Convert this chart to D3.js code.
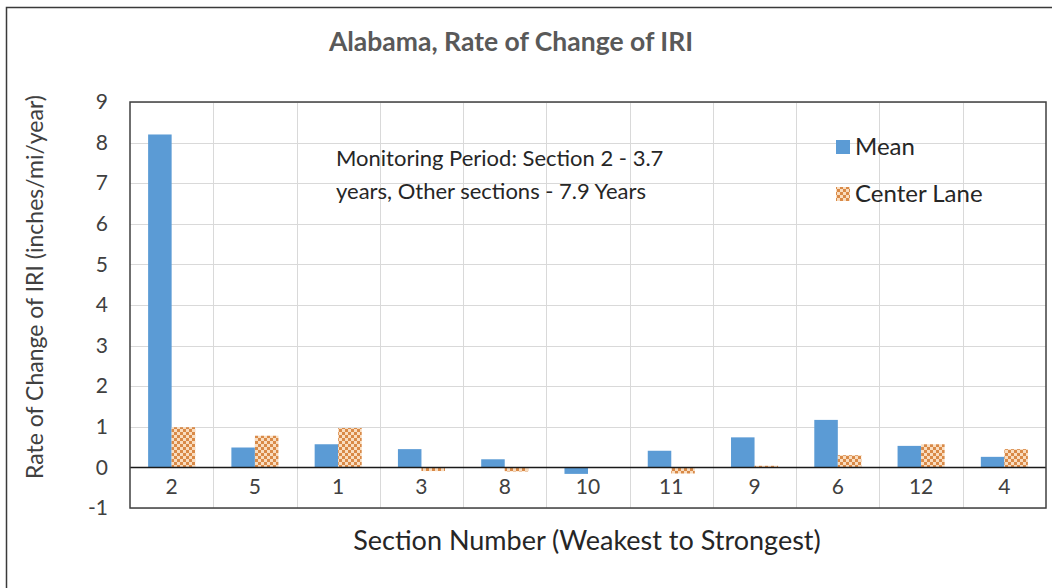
<!DOCTYPE html>
<html>
<head>
<meta charset="utf-8">
<script src="https://cdn.jsdelivr.net/npm/d3@7"></script>
<style>
  html, body { margin: 0; padding: 0; background: #fff; }
  svg { display: block; }
  text { font-family: Lato, "Open Sans", sans-serif; }
</style>
</head>
<body>
<svg id="chart" width="1052" height="588"></svg>
<script>
// ---- data ----
const categories = ["2", "5", "1", "3", "8", "10", "11", "9", "6", "12", "4"];
const meanValues = [8.2, 0.49, 0.57, 0.45, 0.2, -0.16, 0.41, 0.74, 1.17, 0.53, 0.26];
const centerLaneValues = [0.99, 0.78, 0.97, -0.09, -0.1, 0.0, -0.15, 0.04, 0.3, 0.57, 0.45];
const seriesNames = ["Mean", "Center Lane"];
const yTicks = [-1, 0, 1, 2, 3, 4, 5, 6, 7, 8, 9];
const titleText = "Alabama, Rate of Change of IRI";
const xTitle = "Section Number (Weakest to Strongest)";
const yTitle = "Rate of Change of IRI (inches/mi/year)";
const noteLines = ["Monitoring Period: Section 2 - 3.7", "years, Other sections - 7.9 Years"];

const svg = d3.select("#chart");
const W = 1052, H = 588;
const plot = { left: 130, right: 1046, top: 102, bottom: 508 };

// pattern for Center Lane
const defs = svg.append("defs");
const pat = defs.append("pattern").attr("id", "checker")
  .attr("patternUnits", "userSpaceOnUse").attr("width", 6).attr("height", 6);
pat.append("rect").attr("width", 6).attr("height", 6).attr("fill", "#F9DDC0");
pat.append("rect").attr("width", 3).attr("height", 3).attr("fill", "#D98A48");
pat.append("rect").attr("x", 3).attr("y", 3).attr("width", 3).attr("height", 3).attr("fill", "#D98A48");

// outer chart border
svg.append("rect").attr("x", 6.5).attr("y", 7.5).attr("width", W + 10).attr("height", H + 10)
  .attr("fill", "#fff").attr("stroke", "#3a3a3a").attr("stroke-width", 1.5);

const x0 = d3.scaleBand().domain(categories).range([plot.left, plot.right]).padding(0);
const groupW = x0.bandwidth() * 0.565;
const x1 = d3.scaleBand().domain(seriesNames).range([0, groupW]).padding(0);
const y = d3.scaleLinear().domain([-1, 9]).range([plot.bottom, plot.top]);

// gridlines horizontal
svg.append("g").selectAll("line").data(yTicks).join("line")
  .attr("x1", plot.left).attr("x2", plot.right)
  .attr("y1", d => Math.round(y(d)) + 0.5).attr("y2", d => Math.round(y(d)) + 0.5)
  .attr("stroke", "#d9d9d9").attr("stroke-width", 1);
// vertical gridlines at category boundaries
svg.append("g").selectAll("line").data(categories.slice(1)).join("line")
  .attr("x1", d => Math.round(x0(d)) + 0.5).attr("x2", d => Math.round(x0(d)) + 0.5)
  .attr("y1", plot.top).attr("y2", plot.bottom)
  .attr("stroke", "#d9d9d9").attr("stroke-width", 1);

// bars
const rows = categories.map((c, i) => ({ cat: c, vals: [meanValues[i], centerLaneValues[i]] }));
const fills = ["#5B9BD5", "url(#checker)"];
const g = svg.append("g");
rows.forEach(r => {
  const gx = x0(r.cat) + (x0.bandwidth() - groupW) / 2;
  r.vals.forEach((v, si) => {
    g.append("rect")
      .attr("x", gx + x1(seriesNames[si]))
      .attr("width", x1.bandwidth())
      .attr("y", y(Math.max(0, v)))
      .attr("height", Math.abs(y(v) - y(0)))
      .attr("fill", fills[si]);
  });
});

// zero line
svg.append("line").attr("x1", plot.left).attr("x2", plot.right)
  .attr("y1", y(0)).attr("y2", y(0)).attr("stroke", "#1a1a1a").attr("stroke-width", 1.5);

// plot frame
svg.append("rect").attr("x", plot.left).attr("y", plot.top)
  .attr("width", plot.right - plot.left).attr("height", plot.bottom - plot.top)
  .attr("fill", "none").attr("stroke", "#404040").attr("stroke-width", 1.5);

// y tick labels via axis
const yAxis = d3.axisLeft(y).tickValues(yTicks).tickSize(0).tickPadding(0).tickFormat(d3.format("d"));
const ya = svg.append("g").attr("transform", `translate(${plot.left - 22},0)`).call(yAxis);
ya.select(".domain").remove();
ya.selectAll("text").attr("font-size", 21).attr("fill", "#404040")
  .attr("font-family", "Lato, sans-serif").attr("text-anchor", "end").attr("dx", 0)
  .text(d => d < 0 ? "-" + Math.abs(d) : d);

// x tick labels (below zero line)
const xAxis = d3.axisBottom(x0).tickSize(0).tickPadding(0);
const xa = svg.append("g").attr("transform", `translate(0,${y(0) + 12})`).call(xAxis);
xa.select(".domain").remove();
xa.selectAll("text").attr("font-size", 21).attr("fill", "#404040").attr("font-family", "Lato, sans-serif");

// title
svg.append("text").attr("x", 511).attr("y", 51).attr("text-anchor", "middle")
  .attr("font-size", 26.5).attr("font-weight", "bold").attr("fill", "#595959").text(titleText);

// axis titles
svg.append("text").attr("x", 587).attr("y", 550).attr("text-anchor", "middle")
  .attr("font-size", 27).attr("fill", "#262626").text(xTitle);
svg.append("text").attr("transform", "translate(43,287) rotate(-90)").attr("text-anchor", "middle")
  .attr("font-size", 23).attr("fill", "#404040").text(yTitle);

// annotation
noteLines.forEach((t, i) => {
  svg.append("text").attr("x", 336).attr("y", 166 + i * 33)
    .attr("font-size", 22).attr("fill", "#262626").text(t);
});

// legend
const leg = svg.append("g");
seriesNames.forEach((s, i) => {
  const ly = 147 + i * 47;
  leg.append("rect").attr("x", 836).attr("y", ly - 7).attr("width", 14).attr("height", 14).attr("fill", fills[i]);
  leg.append("text").attr("x", 855).attr("y", ly + 8).attr("font-size", 24).attr("fill", "#262626").text(s);
});
</script>
</body>
</html>
